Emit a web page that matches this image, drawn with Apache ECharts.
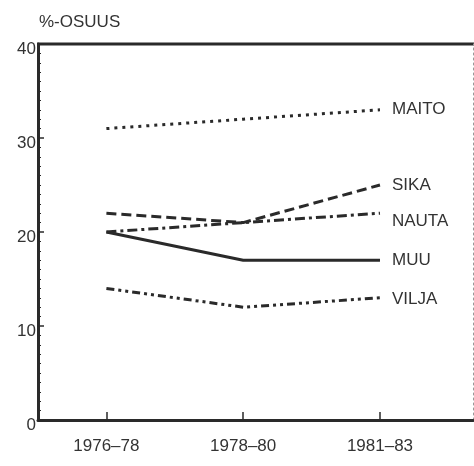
<!DOCTYPE html>
<html>
<head>
<meta charset="utf-8">
<script src="https://cdn.jsdelivr.net/npm/echarts@6/dist/echarts.min.js"></script>
<style>
  html, body { margin: 0; padding: 0; background: #fff; }
  #chart { width: 474px; height: 466px; }
</style>
</head>
<body>
<div id="chart"></div>
<script>
// periods on the x axis
var periods = ["1976–78", "1978–80", "1981–83"];
// share in percent
var maito = [31, 32, 33];
var sika = [22, 21, 25];
var nauta = [20, 21, 22];
var muu = [20, 17, 17];
var vilja = [14, 12, 13];
var yTicks = [0, 10, 20, 30, 40];

var ink = "#2a2a2a";
var font = "Liberation Sans";

function pts(arr) {
  return arr.map(function (v, i) { return [i, v]; });
}

function line(name, data, dash, labelOffset) {
  return {
    name: name,
    type: "line",
    data: pts(data),
    symbol: "none",
    silent: true,
    lineStyle: { color: ink, width: 3, type: dash },
    endLabel: {
      show: true,
      formatter: name,
      color: "#333",
      fontFamily: font,
      fontSize: 17,
      distance: 12,
      offset: labelOffset || [0, 0]
    }
  };
}

var chart = echarts.init(document.getElementById("chart"));
chart.setOption({
  animation: false,
  backgroundColor: "#fff",
  title: {
    text: "%-OSUUS",
    left: 34,
    top: 9,
    textStyle: { color: "#333", fontFamily: font, fontSize: 17, fontWeight: "normal" }
  },
  grid: { left: 38, right: 1, top: 44, bottom: 46 },
  xAxis: {
    type: "value",
    min: -0.5,
    max: 2.68,
    splitLine: { show: false },
    axisLine: { lineStyle: { color: ink, width: 3 } },
    axisTick: { inside: true, length: 8, customValues: [0, 1, 2], lineStyle: { color: ink, width: 1.5 } },
    axisLabel: {
      customValues: [0, 1, 2],
      formatter: function (v) { return periods[Math.round(v)]; },
      color: "#333",
      fontFamily: font,
      fontSize: 17,
      margin: 18
    }
  },
  yAxis: [{
    type: "value",
    min: 0,
    max: 40,
    interval: 10,
    splitLine: { show: false },
    axisLine: { show: true, onZero: false, lineStyle: { color: ink, width: 3 } },
    axisTick: { inside: true, length: 6, lineStyle: { color: ink, width: 1.5 } },
    minorTick: { show: true, splitNumber: 10, length: 3, lineStyle: { color: ink, width: 1 } },
    axisLabel: {
      customValues: yTicks,
      color: "#333",
      fontFamily: font,
      fontSize: 17,
      margin: 2,
      verticalAlign: "top",
      padding: [-3, 0, 0, 0]
    }
  }, {
    type: "value",
    position: "right",
    min: 0,
    max: 40,
    interval: 10,
    splitLine: { show: false },
    axisLine: { show: true, onZero: false, lineStyle: { color: "#999", width: 1, type: [2, 3] } },
    axisTick: { show: false },
    axisLabel: { show: false }
  }],
  series: [
    line("MAITO", maito, [3, 5]),
    line("SIKA", sika, [10, 5]),
    line("NAUTA", nauta, [10, 4, 3, 4], [0, 8]),
    line("MUU", muu, "solid"),
    line("VILJA", vilja, [8, 4, 3, 4, 3, 4], [0, 2])
  ]
});

// top border of the frame
chart.setOption({
  graphic: [{
    type: "line",
    shape: { x1: 37, y1: 44, x2: 474, y2: 44 },
    style: { stroke: ink, lineWidth: 3 },
    silent: true
  }]
});
</script>
</body>
</html>
